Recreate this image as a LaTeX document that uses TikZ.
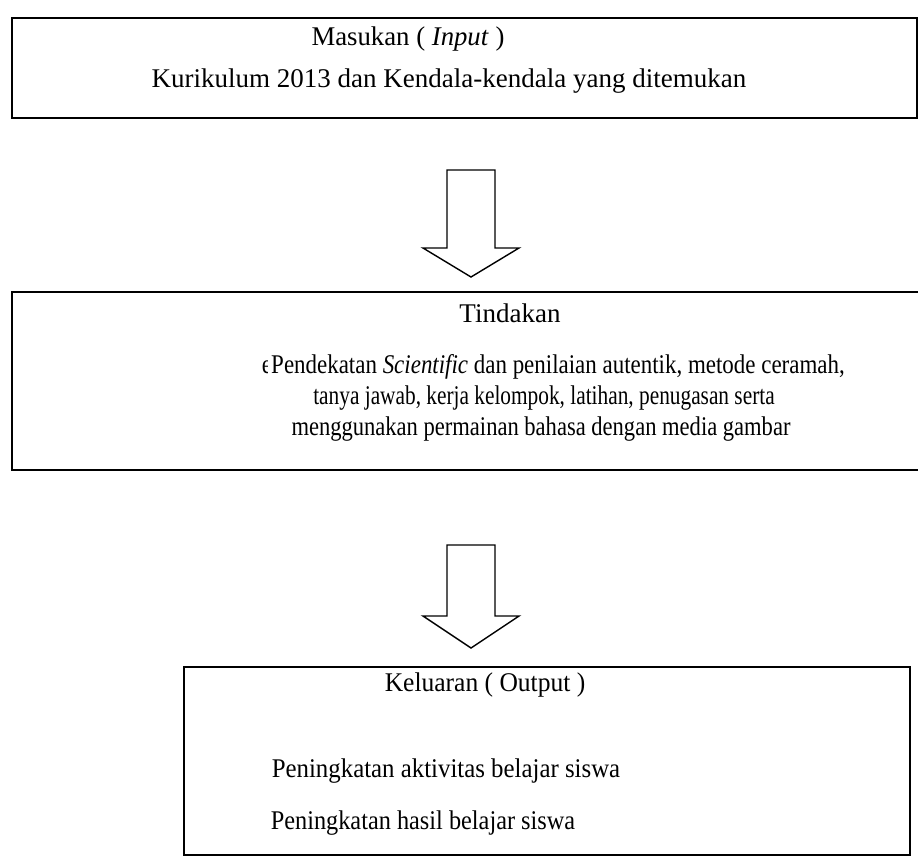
\documentclass[tikz,border=0pt]{standalone}
\usepackage{fontspec}
\setmainfont{Liberation Serif}
\begin{document}
\begin{tikzpicture}[x=1pt,y=-1pt,
  boxframe/.style={draw=black,line width=2pt},
  blockarrow/.style={draw=black,line width=1.4pt,fill=white,line join=miter},
  txt/.style={inner sep=0pt,anchor=center,font=\fontsize{27}{30}\selectfont}]
\useasboundingbox (0,0) rectangle (918,860);
% boxes
\draw[boxframe] (12,18) rectangle (917,118);
\draw[boxframe] (12,292) rectangle (930,470);
\draw[boxframe] (184,667) rectangle (910,855);
% texts box 1
\node[txt] (t1a) at (408,39) {\scalebox{0.99}[1]{Masukan ( \textit{Input} )}};
\node[txt] (t1b) at (449,81) {\scalebox{1.0}[1]{Kurikulum 2013 dan Kendala-kendala yang ditemukan}};
% texts box 2
\node[txt] (t2a) at (510,313) {\scalebox{1.0}[1]{Tindakan}};
\begin{scope}
\clip (258,350) rectangle (267,382);
\node[txt] (t2e) at (267,367) {\scalebox{0.85}[1]{e}};
\end{scope}
\node[txt] (t2b) at (558,367) {\scalebox{0.85}[1]{Pendekatan \textit{Scientific} dan penilaian autentik, metode ceramah,}};
\node[txt] (t2c) at (544,398) {\scalebox{0.79}[1]{tanya jawab, kerja kelompok, latihan, penugasan serta}};
\node[txt] (t2d) at (541,429) {\scalebox{0.835}[1]{menggunakan permainan bahasa dengan media gambar}};
% texts box 3
\node[txt] (t3a) at (485,685) {\scalebox{0.945}[1]{Keluaran ( Output )}};
\node[txt] (t3b) at (446,771) {\scalebox{0.92}[1]{Peningkatan aktivitas belajar siswa}};
\node[txt] (t3c) at (423,823) {\scalebox{0.90}[1]{Peningkatan hasil belajar siswa}};
% arrows
\draw[blockarrow] (447,170) -- (495,170) -- (495,248) -- (519,248) -- (471,277) -- (423,248) -- (447,248) -- cycle;
\draw[blockarrow] (447,545) -- (495,545) -- (495,616) -- (519,616) -- (471,648) -- (423,616) -- (447,616) -- cycle;
\end{tikzpicture}
\end{document}
